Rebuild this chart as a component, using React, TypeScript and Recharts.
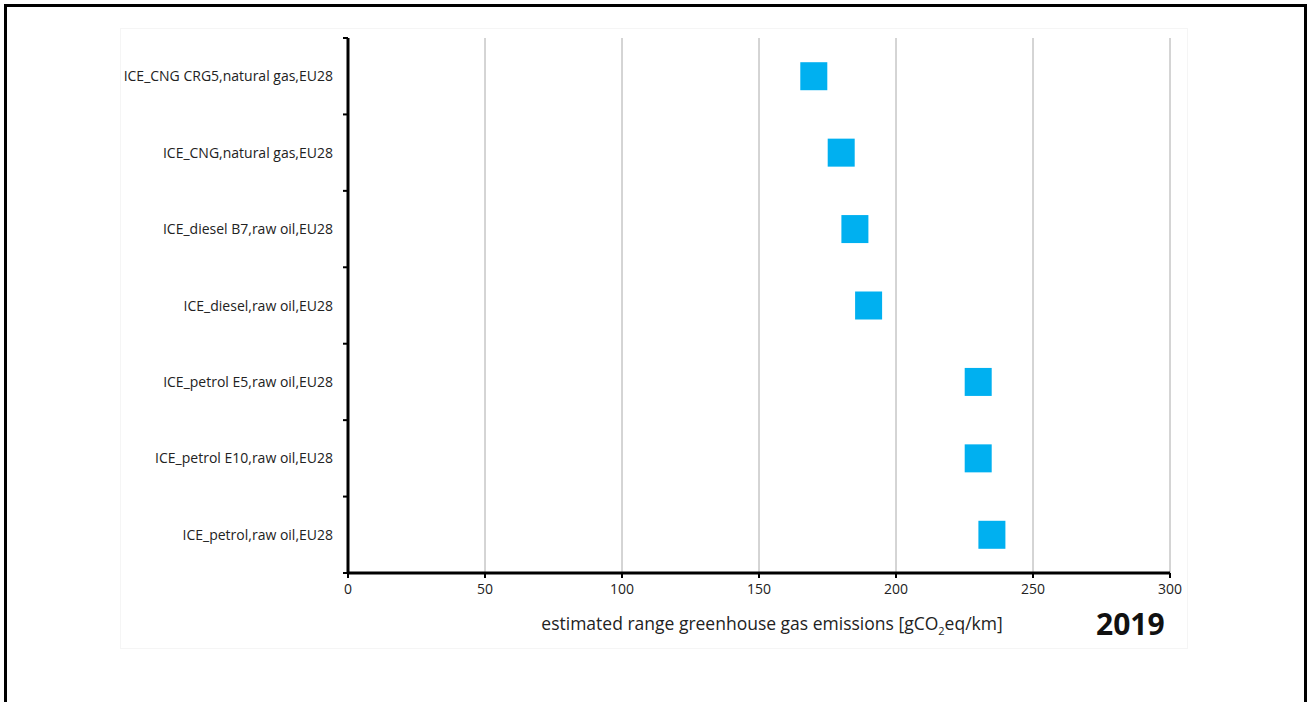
import React from 'react';
import { ScatterChart, Scatter, XAxis, YAxis, CartesianGrid } from 'recharts';

const categories = [
  'ICE_CNG CRG5,natural gas,EU28',
  'ICE_CNG,natural gas,EU28',
  'ICE_diesel B7,raw oil,EU28',
  'ICE_diesel,raw oil,EU28',
  'ICE_petrol E5,raw oil,EU28',
  'ICE_petrol E10,raw oil,EU28',
  'ICE_petrol,raw oil,EU28',
];

const emissions = [170, 180, 185, 190, 230, 230, 235];

const xTicks = [0, 50, 100, 150, 200, 250, 300];

const FONT = '"Open Sans", "Liberation Sans", sans-serif';

// each category sits in the middle of its band, bands are 0..7 top to bottom
const data = categories.map((name, i) => ({ name, x: emissions[i], y: i + 0.5 }));
const yTicks: number[] = [];
for (let i = 0; i <= categories.length * 2; i++) yTicks.push(i / 2);

const CategoryTick = ({ x, y, payload }: any) => {
  const v = payload.value;
  if (Number.isInteger(v)) {
    return <line x1={x - 5} x2={x} y1={y} y2={y} stroke="#000" strokeWidth={2} />;
  }
  const label = categories[Math.floor(v)];
  return (
    <text x={x - 15} y={y} dy={5} textAnchor="end" fontSize={14} fill="#222" fontFamily={FONT}>
      {label}
    </text>
  );
};

const Square = ({ cx, cy }: any) => (
  <rect x={cx - 13.5} y={cy - 14} width={27} height={28} fill="#00b0f0" />
);

export default function App() {
  return (
    <div style={{ position: 'absolute', left: 0, top: 0, width: 1308, height: 702, background: '#fff', fontFamily: FONT }}>
      <div style={{ position: 'absolute', left: 4, top: 4, width: 1303, height: 698, border: '3px solid #000', borderBottom: 'none', boxSizing: 'border-box' }} />
      <div style={{ position: 'absolute', left: 120, top: 28, width: 1068, height: 621, border: '1px solid #f5f5f5', boxSizing: 'border-box' }} />
      <div style={{ position: 'absolute', left: 0, top: 0 }}>
        <ScatterChart width={1308} height={702} margin={{ top: 38, right: 138, bottom: 99, left: 108 }}>
          <CartesianGrid horizontal={false} stroke="#aaaaaa" strokeWidth={1} />
          <XAxis
            type="number"
            dataKey="x"
            domain={[0, 300]}
            ticks={xTicks}
            height={30}
            axisLine={{ stroke: '#000', strokeWidth: 3 }}
            tickLine={{ stroke: '#000', strokeWidth: 2 }}
            tickSize={5}
            tickMargin={6}
            tick={{ fill: '#222', fontSize: 14, fontFamily: FONT }}
          />
          <YAxis
            type="number"
            dataKey="y"
            domain={[0, categories.length]}
            reversed
            ticks={yTicks}
            interval={0}
            width={240}
            axisLine={{ stroke: '#000', strokeWidth: 3 }}
            tickLine={false}
            tickSize={0}
            tickMargin={0}
            tick={<CategoryTick />}
          />
          <Scatter data={data} shape={<Square />} isAnimationActive={false} />
        </ScatterChart>
      </div>
      <div style={{ position: 'absolute', left: 772, top: 611, transform: 'translateX(-50%)', fontSize: 17.5, color: '#222', whiteSpace: 'nowrap' }}>
        estimated range greenhouse gas emissions [gCO<sub style={{ fontSize: 11 }}>2</sub>eq/km]
      </div>
      <div style={{ position: 'absolute', left: 1096, top: 603, fontSize: 30, fontWeight: 700, color: '#111' }}>2019</div>
    </div>
  );
}
